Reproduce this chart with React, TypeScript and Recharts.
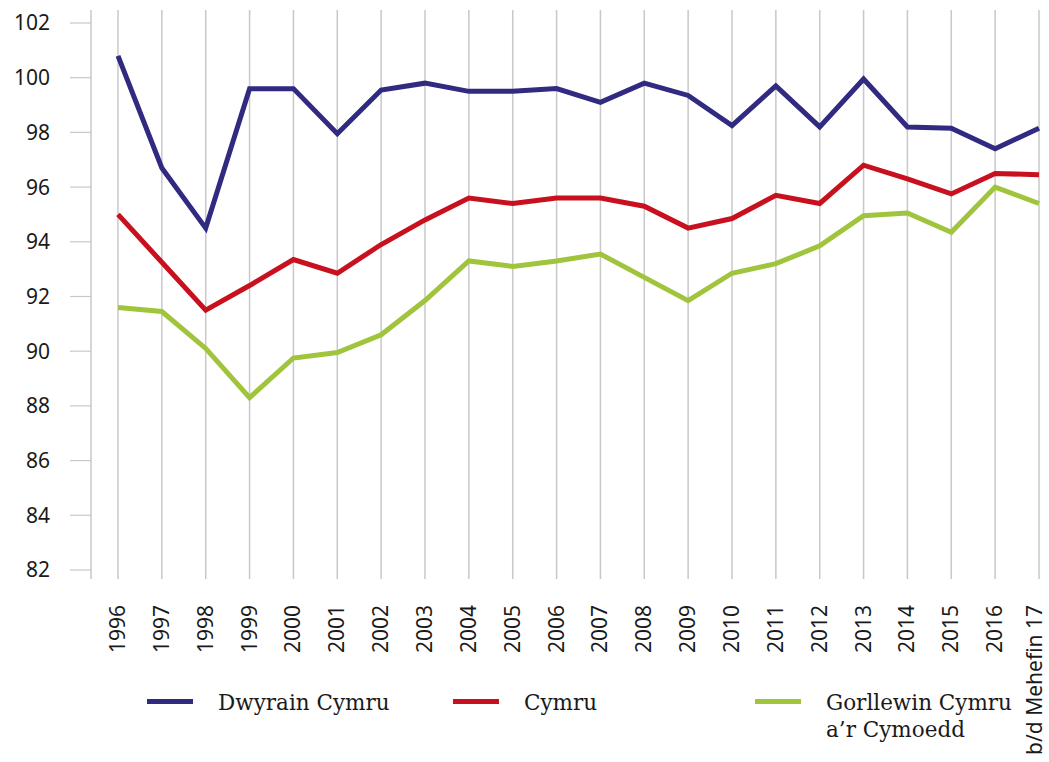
import { LineChart, Line, XAxis, YAxis, CartesianGrid } from "recharts";

const years = [
  "1996", "1997", "1998", "1999", "2000", "2001", "2002", "2003", "2004", "2005", "2006",
  "2007", "2008", "2009", "2010", "2011", "2012", "2013", "2014", "2015", "2016", "b/d Mehefin 17",
];

const dwyrain = [
  100.8, 96.7, 94.5, 99.6, 99.6, 97.95, 99.55, 99.8, 99.5, 99.5, 99.6,
  99.1, 99.8, 99.35, 98.25, 99.7, 98.2, 99.95, 98.2, 98.15, 97.4, 98.15,
];
const cymru = [
  95.0, 93.25, 91.5, 92.4, 93.35, 92.85, 93.9, 94.8, 95.6, 95.4, 95.6,
  95.6, 95.3, 94.5, 94.85, 95.7, 95.4, 96.8, 96.3, 95.75, 96.5, 96.45,
];
const gorllewin = [
  91.6, 91.45, 90.1, 88.3, 89.75, 89.95, 90.6, 91.85, 93.3, 93.1, 93.3,
  93.55, 92.7, 91.85, 92.85, 93.2, 93.85, 94.95, 95.05, 94.35, 96.0, 95.4,
];

const yTicks = [82, 84, 86, 88, 90, 92, 94, 96, 98, 100, 102];

const data = years.map((year, i) => ({
  year,
  dwyrain: dwyrain[i],
  cymru: cymru[i],
  gorllewin: gorllewin[i],
}));

const BLUE = "#302a80";
const RED = "#c8101e";
const GREEN = "#a0c43b";
const GRID = "#c8c8c8";
const SANS = "'Noto Sans', sans-serif";
const SERIF = "'DejaVu Serif', serif";

function YearTick(props: any) {
  const { x, y, payload, index } = props;
  // last label sits right at the edge, nudge it in a bit
  const dx = index === years.length - 1 ? 3 : 7;
  return (
    <text
      transform={`translate(${x + dx},${y + 18}) rotate(-90)`}
      textAnchor="end"
      fontSize={21}
      fontFamily={SANS}
      fill="#1a1a1a"
    >
      {payload.value}
    </text>
  );
}

const legendItems = [
  { label: ["Dwyrain Cymru"], color: BLUE, left: 147 },
  { label: ["Cymru"], color: RED, left: 453 },
  { label: ["Gorllewin Cymru", "a\u2019r Cymoedd"], color: GREEN, left: 755 },
];

export default function App() {
  return (
    <div style={{ position: "absolute", left: 0, top: 0, width: 1049, height: 762, background: "#fff" }}>
      <LineChart width={1049} height={762} data={data} margin={{ top: 10, right: 10, bottom: 0, left: 0 }}>
        <CartesianGrid horizontal={false} stroke={GRID} strokeWidth={1.5} />
        <XAxis
          dataKey="year"
          interval={0}
          height={183}
          padding={{ left: 27, right: 0 }}
          axisLine={false}
          tickLine={false}
          tick={<YearTick />}
        />
        <YAxis
          width={91}
          domain={[81.67, 102.475]}
          ticks={yTicks}
          axisLine={false}
          tickLine={{ stroke: GRID, strokeWidth: 1.2 }}
          tickSize={21}
          tickMargin={20}
          tick={{ fill: "#1a1a1a", fontSize: 21, fontFamily: SANS }}
        />
        <Line dataKey="dwyrain" stroke={BLUE} strokeWidth={5} dot={false} isAnimationActive={false} />
        <Line dataKey="cymru" stroke={RED} strokeWidth={5} dot={false} isAnimationActive={false} />
        <Line dataKey="gorllewin" stroke={GREEN} strokeWidth={5} dot={false} isAnimationActive={false} />
      </LineChart>
      {legendItems.map((item) => (
        <div key={item.color} style={{ position: "absolute", left: item.left, top: 689 }}>
          <div style={{ position: "absolute", left: 0, top: 10, width: 46, height: 5, background: item.color }} />
          <div
            style={{
              position: "absolute",
              left: 71,
              top: 0,
              fontFamily: SERIF,
              fontSize: 21.5,
              lineHeight: "27px",
              color: "#1a1a1a",
              whiteSpace: "nowrap",
            }}
          >
            {item.label.map((l) => (
              <div key={l}>{l}</div>
            ))}
          </div>
        </div>
      ))}
    </div>
  );
}
